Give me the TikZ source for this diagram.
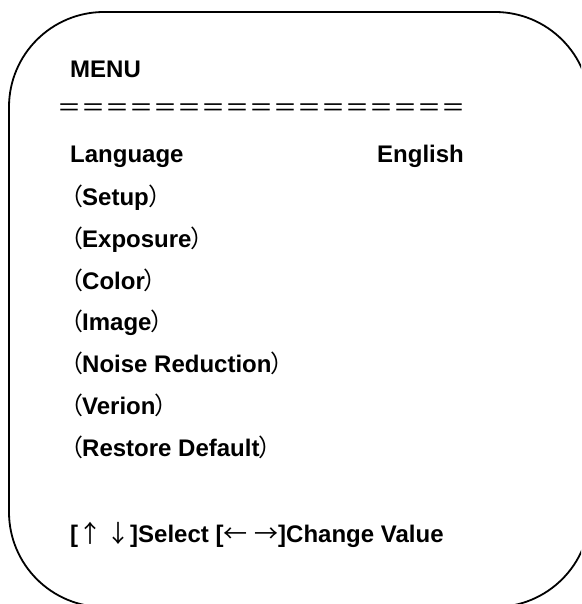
\documentclass[tikz,border=0pt]{standalone}
\usepackage{fontspec}
\setmainfont{Liberation Sans}
\newfontfamily\cjkparen[RawFeature=+palt]{Noto Sans CJK SC}
\newfontfamily\cjkfont{Noto Sans CJK SC}
\newcommand{\menulp}{{\cjkparen\mdseries （}}
\newcommand{\menurp}{{\cjkparen\mdseries ）}}
\newcommand{\menuarrow}[1]{{\cjkfont\mdseries #1}}
\tikzstyle{item} = [anchor=base west, inner sep=0pt, font=\fontsize{24}{28}\selectfont\bfseries]
\tikzstyle{frame} = [draw, line width=1.8pt, rounded corners=95pt]

\begin{document}
\begin{tikzpicture}[x=1pt,y=-1pt]
\useasboundingbox (0,0) rectangle (581,604);
\clip (0,0) rectangle (581,604);
\draw [frame] (9,12) rectangle (590,607);
\node [item] (menu)     at (70, 77.5) {MENU};
\node [item, font=\fontsize{24}{28}\selectfont\cjkfont] (rule) at (57,117)
  {＝＝＝＝＝＝＝＝＝＝＝＝＝＝＝＝＝};
\node [item] (language) at (70,163) {Language};
\node [item] (english)  at (377,163) {English};
\node [item] (setup)    at (70,205) {\menulp Setup\menurp};
\node [item] (exposure) at (70,247) {\menulp Exposure\menurp};
\node [item] (color)    at (70,289) {\menulp Color\menurp};
\node [item] (image)    at (70,330) {\menulp Image\menurp};
\node [item] (noise)    at (70,372) {\menulp Noise Reduction\menurp};
\node [item] (version)  at (70,414) {\menulp Verion\menurp};
\node [item] (restore)  at (70,456) {\menulp Restore Default\menurp};
\node [item] (keys)     at (70,542)
  {[\menuarrow{↑}\,\menuarrow{↓}]Select [\menuarrow{←} \menuarrow{→}]Change Value};
\end{tikzpicture}
\end{document}
